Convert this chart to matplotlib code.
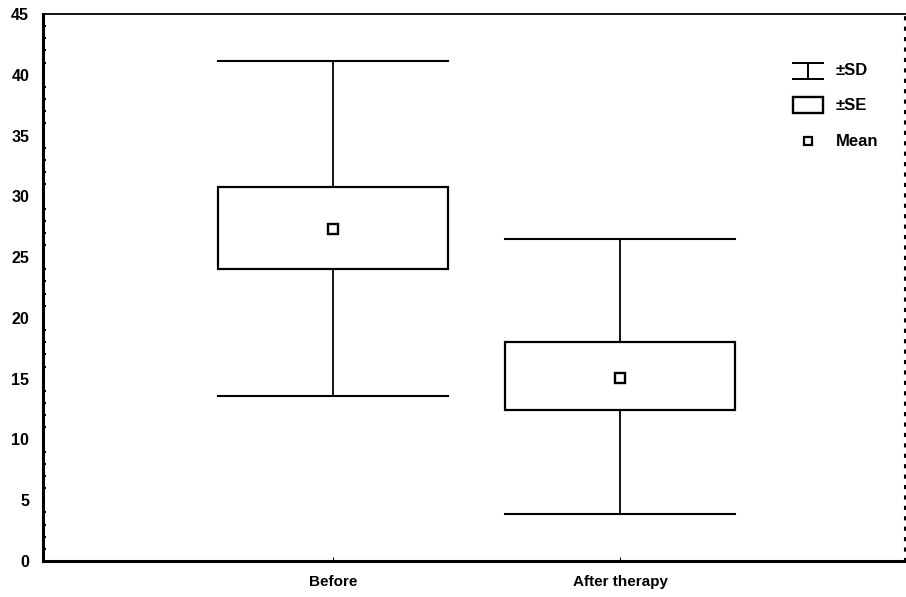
import matplotlib as mpl

mpl.use("Agg")

import matplotlib.pyplot as plt
from matplotlib.patches import Rectangle
from matplotlib.lines import Line2D

# values
groups = ["Before", "After therapy"]
means = [27.3, 15.05]
se_low = [24.0, 12.4]
se_high = [30.75, 18.0]
sd_low = [13.55, 3.85]
sd_high = [41.1, 26.5]

plt.rcParams["font.family"] = ["Liberation Sans Narrow", "Liberation Sans", "DejaVu Sans"]
plt.rcParams["font.weight"] = "bold"

fig = plt.figure(figsize=(9.06, 5.97), dpi=100)
ax = fig.add_axes([0.0475, 0.0603, 0.951, 0.9162])

box_w = 0.8
for i, name in enumerate(groups):
    x = i + 1
    # whiskers (SD)
    ax.plot([x, x], [sd_low[i], se_low[i]], color="black", lw=1.3)
    ax.plot([x, x], [se_high[i], sd_high[i]], color="black", lw=1.3)
    for y in (sd_low[i], sd_high[i]):
        ax.plot([x - box_w / 2, x + box_w / 2], [y, y], color="black", lw=1.5)
    # box (SE)
    ax.add_patch(Rectangle((x - box_w / 2, se_low[i]), box_w, se_high[i] - se_low[i],
                           facecolor="white", edgecolor="black", lw=1.6, zorder=3))
    # mean
    ax.plot(x, means[i], marker="s", ms=7.5, mfc="white", mec="black", mew=1.7, zorder=4)

ax.set_xlim(-0.01, 2.99)
ax.set_ylim(0, 45)
ax.set_xticks([1, 2])
ax.set_xticklabels(groups, fontsize=11)
ax.set_yticks(range(0, 46, 5))
ax.tick_params(axis="y", labelsize=11.5, length=0, pad=10)
ax.tick_params(axis="x", length=3, direction="in", pad=10)
ax.set_yticks(range(0, 46), minor=True)
ax.tick_params(axis="y", which="minor", length=2.5, direction="in", width=1.5)

ax.spines["left"].set_linewidth(2.2)
ax.spines["bottom"].set_linewidth(2.2)
ax.spines["top"].set_linewidth(1.3)
ax.spines["right"].set_linewidth(1.5)
ax.spines["right"].set_linestyle((0, (1, 4)))

# legend drawn by hand in axes coordinates
tr = ax.transAxes
lx0, lx1, tx = 0.870, 0.905, 0.920
y_sd, y_se, y_mn = 0.896, 0.833, 0.767
h = 0.0145
ax.add_line(Line2D([lx0, lx1], [y_sd + h, y_sd + h], transform=tr, color="black", lw=1.4))
ax.add_line(Line2D([lx0, lx1], [y_sd - h, y_sd - h], transform=tr, color="black", lw=1.4))
ax.add_line(Line2D([(lx0 + lx1) / 2] * 2, [y_sd - h, y_sd + h], transform=tr, color="black", lw=1.4))
ax.add_patch(Rectangle((lx0, y_se - h), lx1 - lx0, 2 * h, transform=tr,
                       facecolor="white", edgecolor="black", lw=1.7))
ax.add_line(Line2D([(lx0 + lx1) / 2], [y_mn], transform=tr, marker="s", ms=6,
                   mfc="white", mec="black", mew=1.6))
for y, lab in [(y_sd, "±SD"), (y_se, "±SE"), (y_mn, "Mean")]:
    ax.text(tx, y, lab, transform=tr, va="center", ha="left", fontsize=12)

fig.savefig("out.png", dpi=100)
